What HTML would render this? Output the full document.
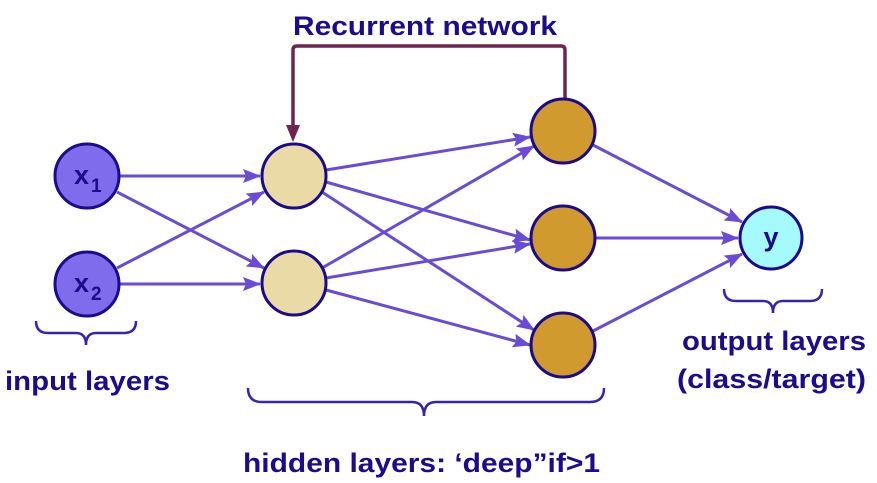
<!DOCTYPE html>
<html><head><meta charset="utf-8"><style>
html,body{margin:0;padding:0;background:#fff;}
svg{display:block;}
text{font-family:"Liberation Sans",sans-serif;font-weight:bold;fill:#1c0b8a;}
</style></head><body>
<svg width="877" height="483" viewBox="0 0 877 483" xmlns="http://www.w3.org/2000/svg">
<defs>
<marker id="a" markerWidth="18" markerHeight="14" refX="17" refY="7" orient="auto" markerUnits="userSpaceOnUse" viewBox="0 0 18 14">
<path d="M0,0 L18,7 L0,14 L3,7 z" fill="#6a4bd6"/>
</marker>
</defs>
<g stroke="#6a4bd6" stroke-width="3" fill="none">
<line x1="119" y1="176" x2="260" y2="176" marker-end="url(#a)"/>
<line x1="117" y1="192" x2="264" y2="268" marker-end="url(#a)"/>
<line x1="117" y1="268" x2="264" y2="192" marker-end="url(#a)"/>
<line x1="119" y1="284" x2="260" y2="284" marker-end="url(#a)"/>
<line x1="326" y1="170" x2="530" y2="137" marker-end="url(#a)"/>
<line x1="326" y1="182" x2="530" y2="240" marker-end="url(#a)"/>
<line x1="322" y1="192" x2="534" y2="330" marker-end="url(#a)"/>
<line x1="322" y1="268" x2="534" y2="146" marker-end="url(#a)"/>
<line x1="326" y1="278" x2="530" y2="244" marker-end="url(#a)"/>
<line x1="326" y1="290" x2="530" y2="345" marker-end="url(#a)"/>
<line x1="593" y1="145" x2="742" y2="222" marker-end="url(#a)"/>
<line x1="595" y1="238" x2="738" y2="238" marker-end="url(#a)"/>
<line x1="593" y1="331" x2="742" y2="254" marker-end="url(#a)"/>
</g>
<path d="M565,100 L565,50 Q565,46 561,46 L297,46 Q293,46 293,50 L293,128" stroke="#6e2550" stroke-width="3.5" fill="none"/>
<path d="M286,125 L300,125 L293,142 z" fill="#6e2550"/>
<g stroke="#1a0a8c" stroke-width="3">
<circle cx="87" cy="176" r="32" fill="#7f6ced"/>
<circle cx="87" cy="284" r="32" fill="#7f6ced"/>
<circle cx="294" cy="176" r="32" fill="#eadba6"/>
<circle cx="294" cy="283" r="32" fill="#eadba6"/>
<circle cx="563" cy="131" r="32" fill="#d09a2e"/>
<circle cx="563" cy="238" r="32" fill="#d09a2e"/>
<circle cx="563" cy="345" r="32" fill="#d09a2e"/>
<circle cx="771" cy="238" r="31" fill="#a4fafc"/>
</g>
<text x="74" y="184" font-size="27">x</text><text x="91" y="192" font-size="19">1</text>
<text x="74" y="292" font-size="27">x</text><text x="91" y="300" font-size="19">2</text>
<text x="771" y="246" font-size="27" text-anchor="middle">y</text>
<g stroke="#3a22b0" stroke-width="2.5" fill="none">
<path d="M36,321 Q36,333 48,333 L76,333 Q86,333 86,345 Q86,333 96,333 L124,333 Q136,333 136,321"/>
<path d="M248,388 Q248,402 262,402 L412,402 Q424,402 424,416 Q424,402 436,402 L590,402 Q604,402 604,388"/>
<path d="M724,289 Q724,301 736,301 L763,301 Q773,301 773,313 Q773,301 783,301 L810,301 Q822,301 822,289"/>
</g>
<text x="293" y="35" font-size="27" textLength="264" lengthAdjust="spacingAndGlyphs">Recurrent network</text>
<text x="5" y="390" font-size="27" textLength="165" lengthAdjust="spacingAndGlyphs">input layers</text>
<text x="682" y="350" font-size="27" textLength="184" lengthAdjust="spacingAndGlyphs">output layers</text>
<text x="677" y="388" font-size="27" textLength="189" lengthAdjust="spacingAndGlyphs">(class/target)</text>
<text x="243" y="472" font-size="27" textLength="357" lengthAdjust="spacingAndGlyphs">hidden layers: ‘deep”if&gt;1</text>
</svg>
</body></html>
